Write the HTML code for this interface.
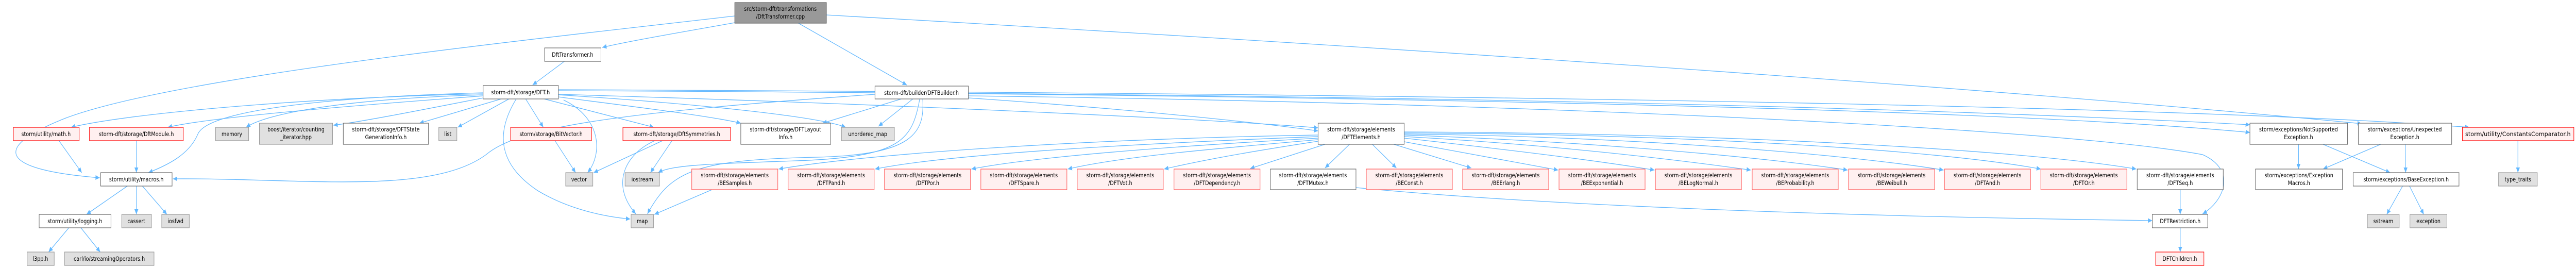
<!DOCTYPE html>
<html><head><meta charset="utf-8"><style>
html,body{margin:0;padding:0;background:#fff;overflow:hidden;width:100vw;height:100vh;}
svg{display:block;width:100vw;height:100vh;}
text{font-family:"DejaVu Sans","Liberation Sans",sans-serif;font-size:11.5px;fill:#000;text-anchor:middle;}
.w{fill:#fff;stroke:#666;stroke-width:1.2}
.g{fill:#e0e0e0;stroke:#999;stroke-width:1.2}
.r{fill:#fff0f0;stroke:#f00;stroke-width:1.2}
.rr{fill:#fff0f0;stroke:#f55;stroke-width:1.2}
.root{fill:#999;stroke:#666;stroke-width:1.2}
path{fill:none;stroke:#63b8ff;stroke-width:1.3;marker-end:url(#a)}
</style></head><body>
<svg viewBox="0 0 5988 520" preserveAspectRatio="none" xmlns="http://www.w3.org/2000/svg">
<defs><marker id="a" markerUnits="userSpaceOnUse" markerWidth="11" markerHeight="9" refX="10" refY="4.5" orient="auto"><polygon points="0,0 10,4.5 0,9" fill="#63b8ff"/></marker></defs>

<path d="M1708,44 C1600,60 1460,80 1400,92"/>
<path d="M1708,31 C1200,80 400,150 150,230 C-30,290 10,330 232,345"/>
<path d="M1856,45 L2108,165"/>
<path d="M1921,29 C3000,80 4500,160 5490,240"/>
<path d="M1312,119 L1238,165"/>
<path d="M1123,182 C700,190 300,220 165,247"/>
<path d="M1123,186 C900,200 500,225 390,247"/>
<path d="M1123,184 C800,192 620,220 572,247"/>
<path d="M1123,190 C1000,210 850,235 775,243"/>
<path d="M1165,192 L975,239"/>
<path d="M1183,192 L1064,247"/>
<path d="M1123,180 C700,190 480,220 460,260 C440,300 390,320 345,335"/>
<path d="M1200,192 C1150,260 1160,320 1250,370 C1320,405 1400,420 1465,425"/>
<path d="M1222,192 L1263,247"/>
<path d="M1310,194 C1400,230 1400,300 1366,335"/>
<path d="M1265,192 L1520,247"/>
<path d="M1298,188 C1500,210 1650,225 1722,239"/>
<path d="M1298,184 C1600,200 1900,225 1966,247"/>
<path d="M1298,183 C2000,200 2800,230 3064,248"/>
<path d="M1298,176 C2500,180 4500,200 5230,257"/>
<path d="M1298,174 C3000,180 5000,200 5740,247"/>
<path d="M2034,183 C1400,220 1200,250 1130,300 C1000,380 700,345 402,347"/>
<path d="M2095,192 L1912,239"/>
<path d="M2122,192 L2042,245"/>
<path d="M2138,192 C2120,270 2100,305 1850,312 C1650,318 1560,320 1530,335"/>
<path d="M2145,192 C2150,260 2120,300 1900,305 C1620,310 1560,330 1505,415"/>
<path d="M2251,190 C2600,210 2900,235 3064,254"/>
<path d="M2251,181 C3500,190 4500,210 5230,242"/>
<path d="M2251,186 C3600,200 4800,250 5120,300 C5200,330 5170,390 5120,415"/>
<path d="M3064,262 C2500,270 2000,300 1810,328"/>
<path d="M3064,265 C2600,280 2200,300 2034,328"/>
<path d="M3064,268 C2700,285 2400,305 2258,328"/>
<path d="M3064,271 C2800,290 2600,305 2482,328"/>
<path d="M3064,274 C2900,295 2800,310 2706,328"/>
<path d="M3080,280 L2906,327"/>
<path d="M3137,280 L3080,326"/>
<path d="M3190,280 L3246,326"/>
<path d="M3240,280 L3420,326"/>
<path d="M3264,275 L3622,330"/>
<path d="M3264,268 C3500,290 3700,310 3846,330"/>
<path d="M3264,265 C3600,280 3900,310 4070,330"/>
<path d="M3264,262 C3700,275 4100,305 4295,330"/>
<path d="M3264,260 C3800,265 4300,300 4518,330"/>
<path d="M3264,258 C3900,260 4500,290 4744,328"/>
<path d="M3264,256 C4000,258 4700,290 4966,328"/>
<path d="M1540,273 L1380,335"/>
<path d="M1562,273 L1512,335"/>
<path d="M1522,273 C1450,300 1420,360 1478,415"/>
<path d="M1655,368 L1521,416"/>
<path d="M1290,273 L1338,335"/>
<path d="M137,273 L190,335"/>
<path d="M317,273 L317,335"/>
<path d="M296,361 L201,416"/>
<path d="M317,361 L317,416"/>
<path d="M331,361 L388,416"/>
<path d="M160,442 L113,489"/>
<path d="M188,442 L233,489"/>
<path d="M3152,364 C3600,400 4300,420 5003,428"/>
<path d="M5068,368 L5068,416"/>
<path d="M5068,442 L5068,489"/>
<path d="M5343,280 L5343,328"/>
<path d="M5400,280 L5556,335"/>
<path d="M5534,280 L5400,328"/>
<path d="M5591,280 L5592,335"/>
<path d="M5585,361 L5548,416"/>
<path d="M5601,361 L5634,416"/>
<path d="M5853,273 L5853,335"/>

<rect class="root" x="1708" y="5" width="213" height="40"/><text x="1814" y="21">src/storm-dft/transformations</text><text x="1814" y="36">/DftTransformer.cpp</text>
<rect class="w" x="1266" y="93" width="131" height="26"/><text x="1331" y="110">DftTransformer.h</text>
<rect class="w" x="1123" y="166" width="175" height="26"/><text x="1210" y="183">storm-dft/storage/DFT.h</text>
<rect class="w" x="2034" y="167" width="217" height="25"/><text x="2142" y="184">storm-dft/builder/DFTBuilder.h</text>

<rect class="r" x="31" y="247" width="153" height="26"/><text x="107" y="264">storm/utility/math.h</text>
<rect class="r" x="208" y="247" width="218" height="26"/><text x="317" y="264">storm-dft/storage/DftModule.h</text>
<rect class="g" x="501" y="247" width="77" height="26"/><text x="539" y="264">memory</text>
<rect class="g" x="603" y="239" width="170" height="41"/><text x="688" y="255">boost/iterator/counting</text><text x="688" y="270">_iterator.hpp</text>
<rect class="w" x="798" y="239" width="198" height="41"/><text x="897" y="255">storm-dft/storage/DFTState</text><text x="897" y="270">GenerationInfo.h</text>
<rect class="g" x="1020" y="247" width="42" height="26"/><text x="1041" y="264">list</text>
<rect class="r" x="1187" y="247" width="188" height="26"/><text x="1281" y="264">storm/storage/BitVector.h</text>
<rect class="r" x="1448" y="247" width="250" height="26"/><text x="1573" y="264">storm-dft/storage/DftSymmetries.h</text>
<rect class="w" x="1722" y="239" width="209" height="41"/><text x="1826" y="255">storm-dft/storage/DFTLayout</text><text x="1826" y="270">Info.h</text>
<rect class="g" x="1956" y="247" width="123" height="26"/><text x="2017" y="264">unordered_map</text>
<rect class="w" x="3064" y="239" width="200" height="41"/><text x="3164" y="255">storm-dft/storage/elements</text><text x="3164" y="270">/DFTElements.h</text>
<rect class="w" x="5230" y="239" width="227" height="41"/><text x="5343" y="255">storm/exceptions/NotSupported</text><text x="5343" y="270">Exception.h</text>
<rect class="w" x="5482" y="239" width="217" height="41"/><text x="5590" y="255">storm/exceptions/Unexpected</text><text x="5590" y="270">Exception.h</text>
<rect class="r" x="5724" y="247" width="259" height="26"/><text x="5853" y="264" textLength="245" lengthAdjust="spacingAndGlyphs">storm/utility/ConstantsComparator.h</text>

<rect class="w" x="234" y="335" width="166" height="26"/><text x="317" y="352">storm/utility/macros.h</text>
<rect class="g" x="1315" y="335" width="63" height="26"/><text x="1346" y="352">vector</text>
<rect class="g" x="1453" y="335" width="80" height="26"/><text x="1493" y="352">iostream</text>

<rect class="rr" x="1608" y="328" width="200" height="40"/><text x="1708" y="344">storm-dft/storage/elements</text><text x="1708" y="359">/BESamples.h</text>
<rect class="rr" x="1832" y="328" width="200" height="40"/><text x="1932" y="344">storm-dft/storage/elements</text><text x="1932" y="359">/DFTPand.h</text>
<rect class="rr" x="2056" y="328" width="200" height="40"/><text x="2156" y="344">storm-dft/storage/elements</text><text x="2156" y="359">/DFTPor.h</text>
<rect class="rr" x="2280" y="328" width="200" height="40"/><text x="2380" y="344">storm-dft/storage/elements</text><text x="2380" y="359">/DFTSpare.h</text>
<rect class="rr" x="2504" y="328" width="200" height="40"/><text x="2604" y="344">storm-dft/storage/elements</text><text x="2604" y="359">/DFTVot.h</text>
<rect class="rr" x="2729" y="328" width="200" height="40"/><text x="2829" y="344">storm-dft/storage/elements</text><text x="2829" y="359">/DFTDependency.h</text>
<rect class="w" x="2953" y="328" width="199" height="40"/><text x="3052" y="344">storm-dft/storage/elements</text><text x="3052" y="359">/DFTMutex.h</text>
<rect class="rr" x="3176" y="328" width="200" height="40"/><text x="3276" y="344">storm-dft/storage/elements</text><text x="3276" y="359">/BEConst.h</text>
<rect class="rr" x="3400" y="328" width="200" height="40"/><text x="3500" y="344">storm-dft/storage/elements</text><text x="3500" y="359">/BEErlang.h</text>
<rect class="rr" x="3624" y="328" width="200" height="40"/><text x="3724" y="344">storm-dft/storage/elements</text><text x="3724" y="359">/BEExponential.h</text>
<rect class="rr" x="3848" y="328" width="200" height="40"/><text x="3948" y="344">storm-dft/storage/elements</text><text x="3948" y="359">/BELogNormal.h</text>
<rect class="rr" x="4073" y="328" width="200" height="40"/><text x="4173" y="344">storm-dft/storage/elements</text><text x="4173" y="359">/BEProbability.h</text>
<rect class="rr" x="4297" y="328" width="200" height="40"/><text x="4397" y="344">storm-dft/storage/elements</text><text x="4397" y="359">/BEWeibull.h</text>
<rect class="rr" x="4520" y="328" width="200" height="40"/><text x="4620" y="344">storm-dft/storage/elements</text><text x="4620" y="359">/DFTAnd.h</text>
<rect class="rr" x="4744" y="328" width="200" height="40"/><text x="4844" y="344">storm-dft/storage/elements</text><text x="4844" y="359">/DFTOr.h</text>
<rect class="w" x="4968" y="328" width="200" height="40"/><text x="5068" y="344">storm-dft/storage/elements</text><text x="5068" y="359">/DFTSeq.h</text>
<rect class="w" x="5243" y="328" width="202" height="40"/><text x="5344" y="344">storm/exceptions/Exception</text><text x="5344" y="359">Macros.h</text>
<rect class="w" x="5470" y="335" width="246" height="26"/><text x="5593" y="352">storm/exceptions/BaseException.h</text>
<rect class="g" x="5808" y="335" width="90" height="26"/><text x="5853" y="352">type_traits</text>

<rect class="w" x="91" y="416" width="167" height="26"/><text x="174" y="433">storm/utility/logging.h</text>
<rect class="g" x="283" y="416" width="69" height="26"/><text x="317" y="433">cassert</text>
<rect class="g" x="376" y="416" width="64" height="26"/><text x="408" y="433">iosfwd</text>
<rect class="g" x="1467" y="416" width="52" height="26"/><text x="1493" y="433">map</text>
<rect class="w" x="5003" y="416" width="129" height="26"/><text x="5068" y="433">DFTRestriction.h</text>
<rect class="g" x="5503" y="416" width="74" height="26"/><text x="5540" y="433">sstream</text>
<rect class="g" x="5602" y="416" width="86" height="26"/><text x="5645" y="433">exception</text>
<rect class="g" x="63" y="489" width="63" height="26"/><text x="94" y="506">l3pp.h</text>
<rect class="g" x="150" y="489" width="208" height="26"/><text x="254" y="506">carl/io/streamingOperators.h</text>
<rect class="r" x="5011" y="489" width="112" height="26"/><text x="5067" y="506">DFTChildren.h</text>
</svg>
</body></html>
